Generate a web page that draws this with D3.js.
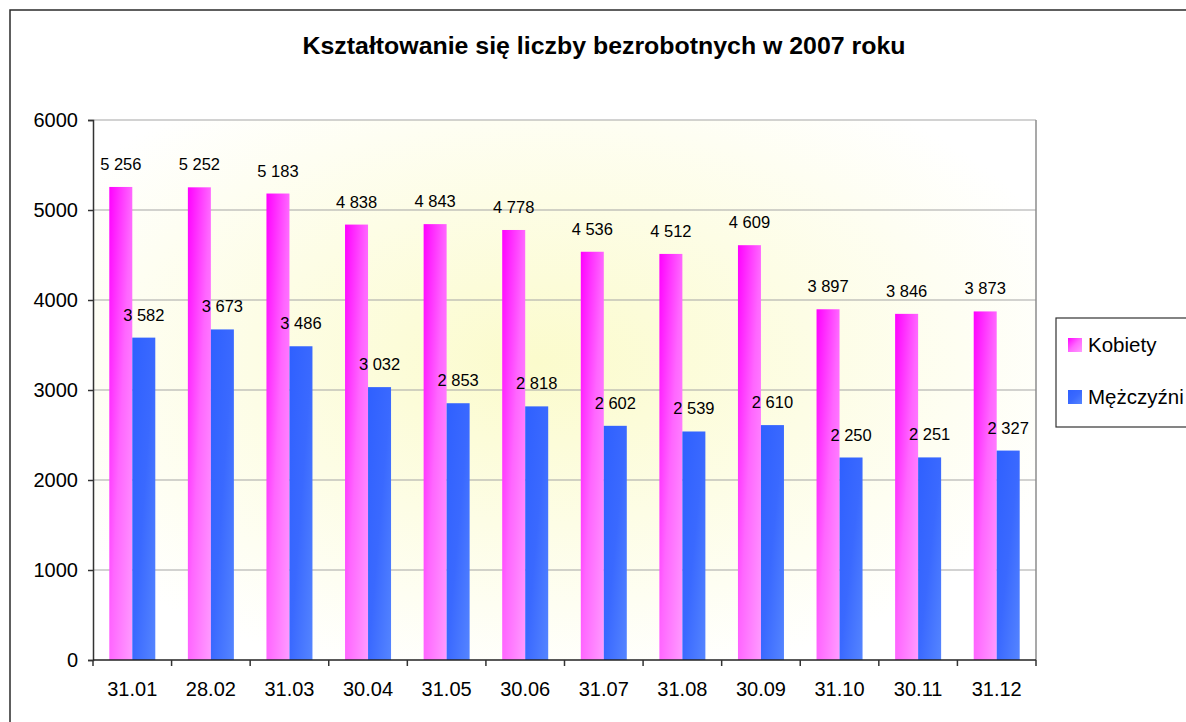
<!DOCTYPE html>
<html>
<head>
<meta charset="utf-8">
<script src="https://cdn.jsdelivr.net/npm/d3@7"></script>
<style>
  body { margin: 0; background: #fff; }
  svg { display: block; font-family: "Liberation Sans", Arial, sans-serif; }
</style>
</head>
<body>
<svg id="chart" width="1186" height="722"></svg>
<script>
"use strict";

const dates = ['31.01', '28.02', '31.03', '30.04', '31.05', '30.06', '31.07', '31.08', '30.09', '31.10', '30.11', '31.12']
const kobiety = [5256, 5252, 5183, 4838, 4843, 4778, 4536, 4512, 4609, 3897, 3846, 3873]
const mezczyzni = [3582, 3673, 3486, 3032, 2853, 2818, 2602, 2539, 2610, 2250, 2251, 2327]
const series_names = ['Kobiety', 'Mężczyźni']
const y_ticks = [0, 1000, 2000, 3000, 4000, 5000, 6000]

const plot = { left: 93, top: 120, right: 1036, bottom: 660 }

const fmt = d3.formatLocale({ decimal: ',', thousands: ' ', grouping: [3], currency: ['', ' zł'] }).format(',d')

const svg = d3.select('#chart')
const defs = svg.append('defs')

const bg = defs.append('radialGradient')
   .attr('id', 'bg')
   .attr('cx', '47%').attr('cy', '45%').attr('r', '60%')
bg.append('stop').attr('offset', '0%').attr('stop-color', '#fbfbcc')
bg.append('stop').attr('offset', '100%').attr('stop-color', '#ffffff')

function bar_gradient(id, stops) {
   let g = defs.append('linearGradient')
      .attr('id', id)
      .attr('x1', 0).attr('y1', 0).attr('x2', 1).attr('y2', 1)
   stops.forEach(s => g.append('stop').attr('offset', s[0]).attr('stop-color', s[1]))
}
bar_gradient('pink', [[0, '#ff00ff'], [0.5, '#ff66ff'], [1, '#ff9cff']])
bar_gradient('blue', [[0, '#2f60ff'], [0.5, '#3a69ff'], [1, '#5585ff']])
const fills = ['url(#pink)', 'url(#blue)']

// outer chart frame
svg.append('rect')
   .attr('x', 10).attr('y', 10)
   .attr('width', 1300).attr('height', 800)
   .attr('fill', '#fff')
   .attr('stroke', '#2a2a2a')
   .attr('stroke-width', 1.5)

svg.append('text')
   .attr('x', 604).attr('y', 54)
   .attr('text-anchor', 'middle')
   .attr('font-size', 23)
   .attr('font-weight', 'bold')
   .attr('textLength', 603)
   .attr('lengthAdjust', 'spacingAndGlyphs')
   .text('Kształtowanie się liczby bezrobotnych w 2007 roku')

const x = d3.scaleBand()
   .domain(dates)
   .range([plot.left, plot.right])

const y = d3.scaleLinear()
   .domain([0, 6000])
   .range([plot.bottom, plot.top])

const bar_w = 23
const inner = d3.scaleBand()
   .domain(series_names)
   .range([0, bar_w * 2])

// plot background
svg.append('rect')
   .attr('x', plot.left).attr('y', plot.top)
   .attr('width', plot.right - plot.left).attr('height', plot.bottom - plot.top)
   .attr('fill', 'url(#bg)')

// gridlines
svg.append('g')
   .selectAll('line')
   .data(y_ticks.filter(d => d > 0))
   .enter().append('line')
      .attr('x1', plot.left).attr('x2', plot.right)
      .attr('y1', d => y(d)).attr('y2', d => y(d))
      .attr('stroke', '#a6a6a6')
      .attr('stroke-width', 1.2)

svg.append('line')
   .attr('x1', plot.right).attr('x2', plot.right)
   .attr('y1', plot.top).attr('y2', plot.bottom)
   .attr('stroke', '#8c8c8c')
   .attr('stroke-width', 1.5)

const rows = dates.map((d, i) => ({ date: d, values: [kobiety[i], mezczyzni[i]] }))

let groups = svg.append('g')
   .selectAll('g')
   .data(rows)
   .enter().append('g')
      .attr('transform', d => `translate(${x(d.date) + x.bandwidth() / 2 - bar_w},0)`)

groups.selectAll('rect')
   .data(d => d.values.map((v, k) => ({ name: series_names[k], value: v, k: k })))
   .enter().append('rect')
      .attr('x', d => inner(d.name))
      .attr('y', d => y(d.value))
      .attr('width', inner.bandwidth())
      .attr('height', d => y(0) - y(d.value))
      .attr('fill', d => fills[d.k])

groups.selectAll('text')
   .data(d => d.values.map((v, k) => ({ name: series_names[k], value: v, k: k })))
   .enter().append('text')
      .attr('x', d => inner(d.name) + inner.bandwidth() / 2)
      .attr('y', d => y(d.value) - 17)
      .attr('text-anchor', 'middle')
      .attr('font-size', 16.5)
      .attr('fill', '#000')
      .text(d => fmt(d.value))

// y axis
let y_axis = svg.append('g')
   .attr('transform', `translate(${plot.left},0)`)
   .call(d3.axisLeft(y).tickValues(y_ticks).tickSize(5).tickPadding(10).tickFormat(d3.format('d')))
y_axis.selectAll('text').attr('font-size', 20).attr('fill', '#000').attr('font-family', null)
y_axis.selectAll('line, path').attr('stroke', '#333').attr('stroke-width', 1.5)

// x axis with ticks between categories
let x_axis = svg.append('g')
   .attr('transform', `translate(0,${plot.bottom})`)
x_axis.append('line')
   .attr('x1', plot.left).attr('x2', plot.right)
   .attr('stroke', '#222').attr('stroke-width', 1.5)
x_axis.selectAll('line.tick')
   .data(dates.map(d => x(d)).concat([plot.right]))
   .enter().append('line')
      .attr('class', 'tick')
      .attr('x1', d => d).attr('x2', d => d)
      .attr('y1', 0).attr('y2', 6)
      .attr('stroke', '#333').attr('stroke-width', 1.5)
x_axis.selectAll('text')
   .data(dates)
   .enter().append('text')
      .attr('x', d => x(d) + x.bandwidth() / 2)
      .attr('y', 36)
      .attr('text-anchor', 'middle')
      .attr('font-size', 20)
      .text(d => d)

// legend
let legend = svg.append('g')
   .attr('transform', 'translate(1056,318)')
legend.append('rect')
   .attr('width', 200).attr('height', 109)
   .attr('fill', '#fff')
   .attr('stroke', '#333')
   .attr('stroke-width', 1.2)
let items = legend.selectAll('g')
   .data(series_names)
   .enter().append('g')
      .attr('transform', (d, i) => `translate(12,${20 + i * 52})`)
items.append('rect')
   .attr('width', 14).attr('height', 14)
   .attr('fill', (d, i) => fills[i])
items.append('text')
   .attr('x', 20).attr('y', 14)
   .attr('font-size', 20.5)
   .text(d => d)
</script>
</body>
</html>
